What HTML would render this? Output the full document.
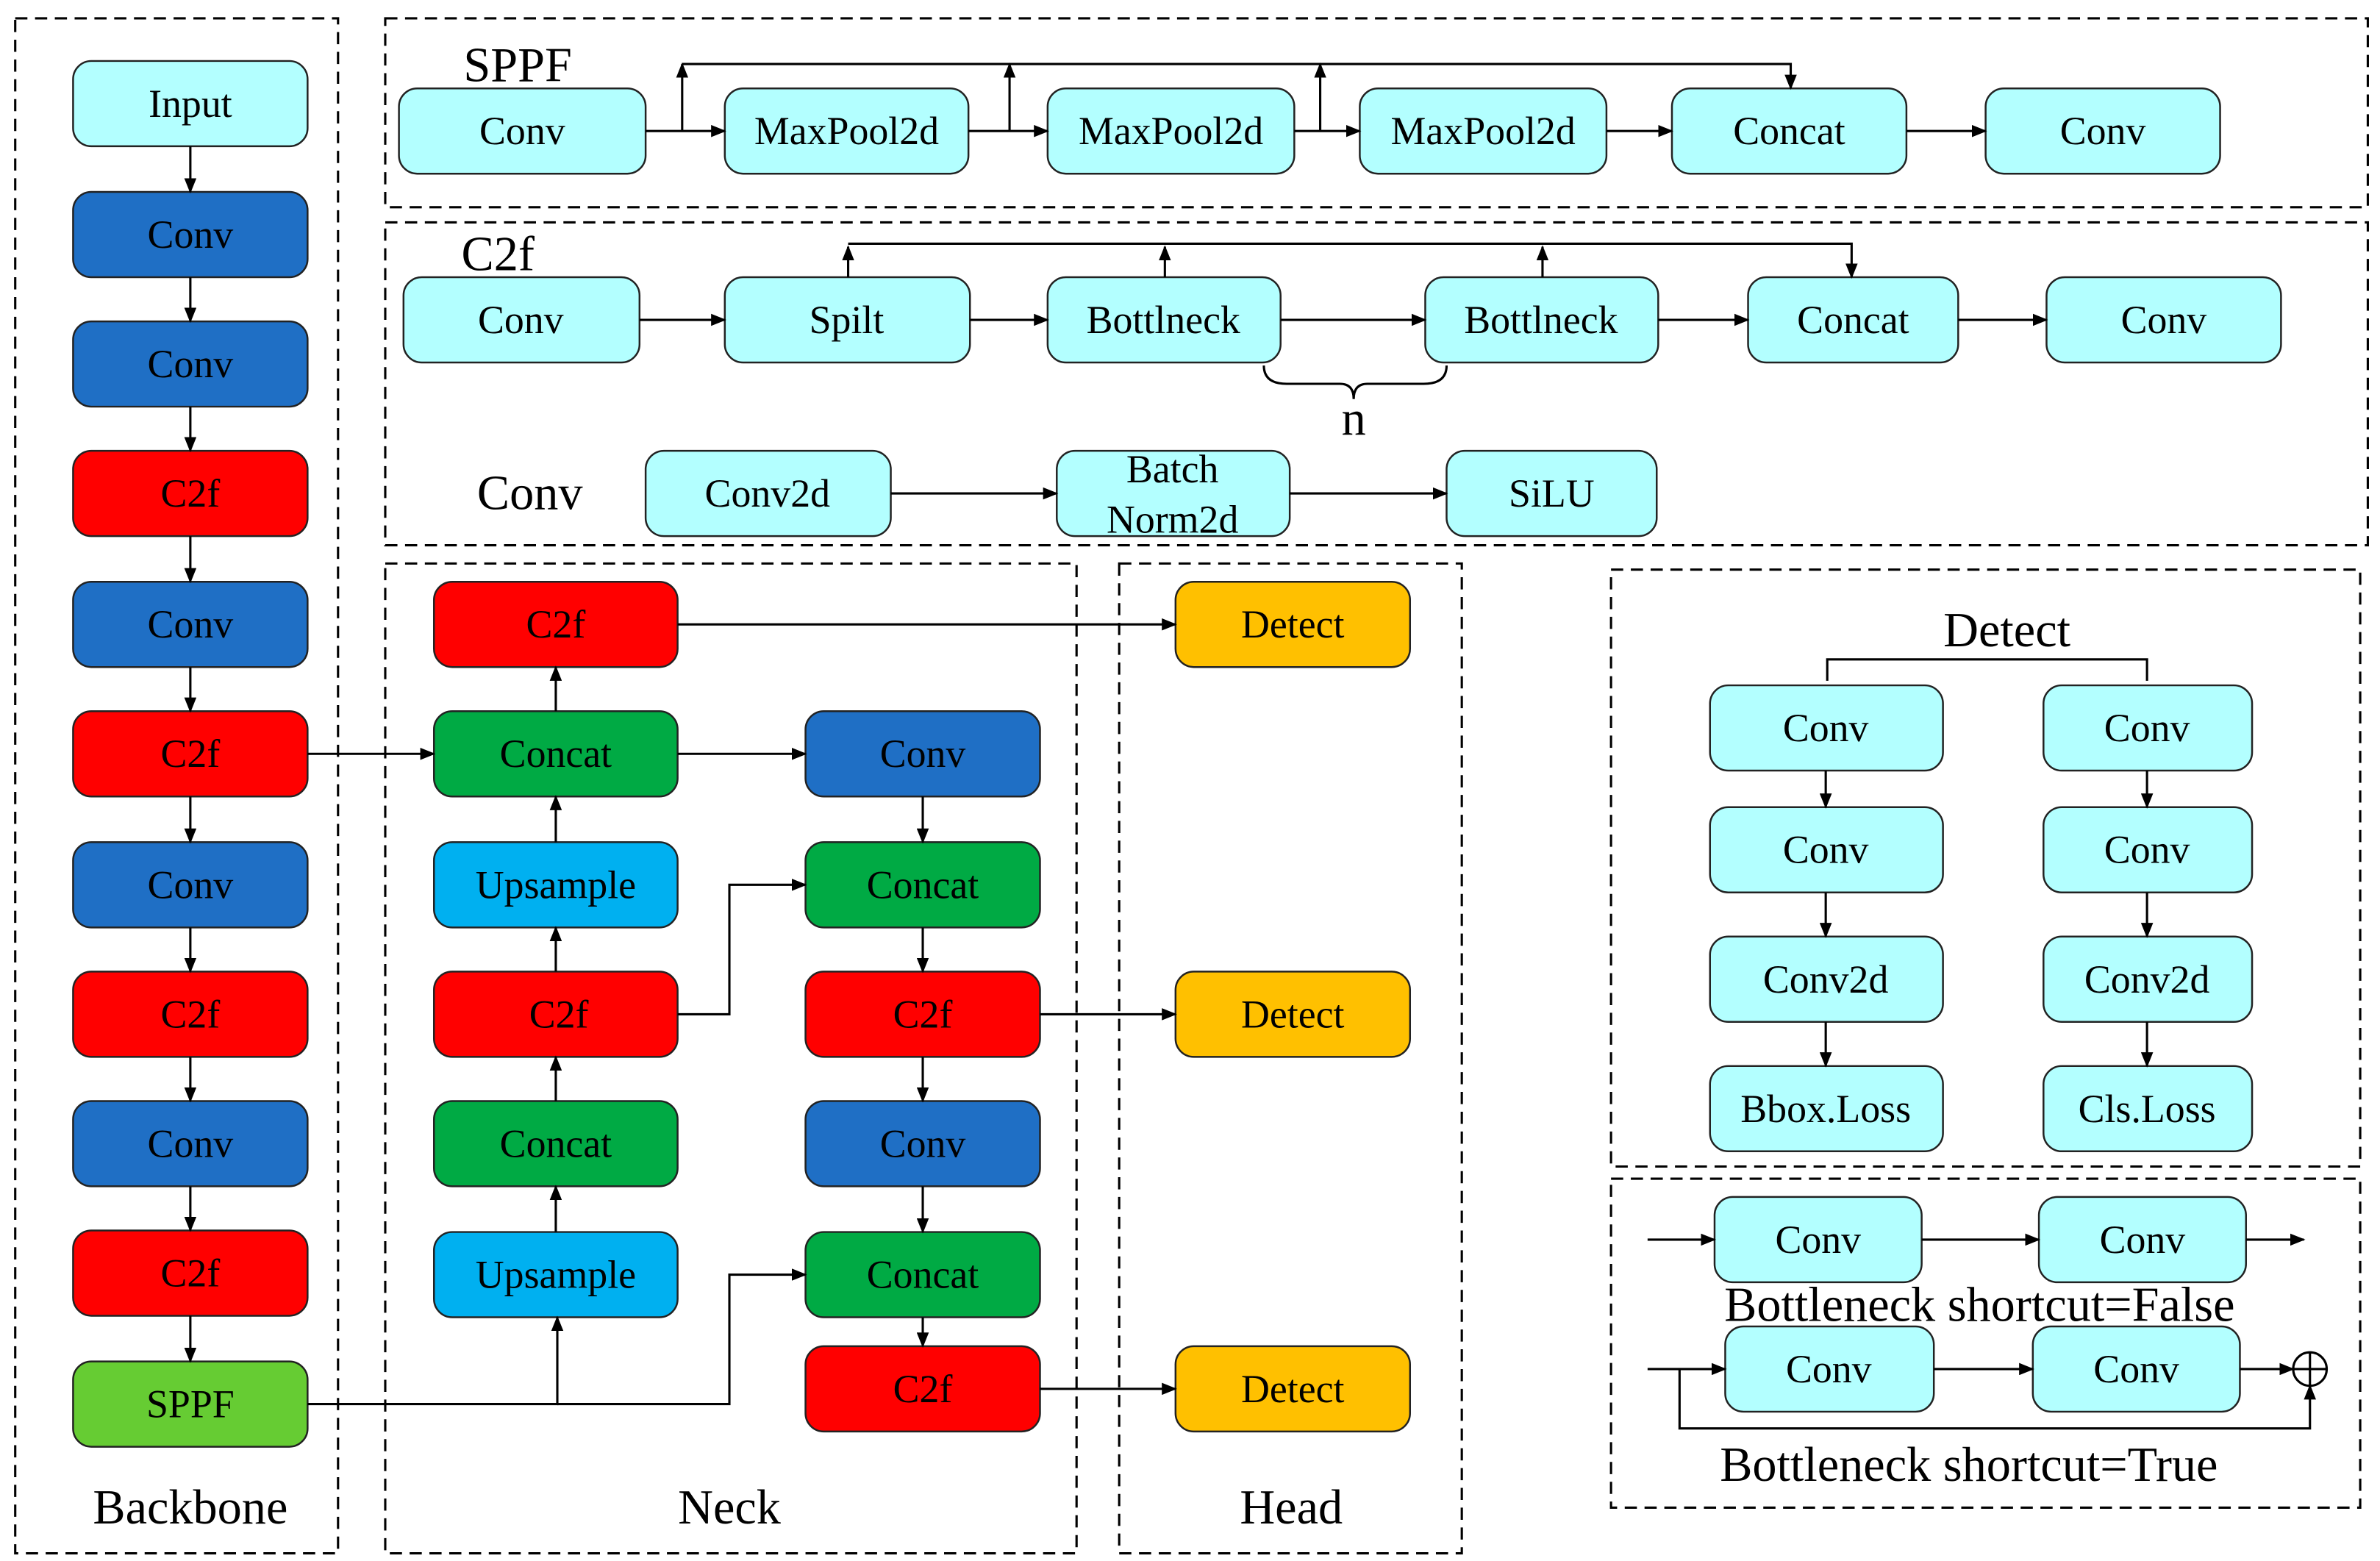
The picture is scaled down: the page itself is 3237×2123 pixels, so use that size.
<!DOCTYPE html>
<html><head><meta charset="utf-8"><style>html,body{margin:0;padding:0;background:#fff}svg{display:block}</style></head><body>
<svg xmlns="http://www.w3.org/2000/svg" width="3237" height="2123" viewBox="0 0 1563 1025">
<defs><marker id="a" markerWidth="10" markerHeight="8" refX="9" refY="4" orient="auto" markerUnits="userSpaceOnUse"><path d="M0,0 L10,4 L0,8 z" fill="#000"/></marker></defs>
<rect width="1563" height="1025" fill="#fff"/>
<g fill="none" stroke="#000" stroke-width="1.5" stroke-dasharray="8,5">
<rect x="10" y="12" width="212" height="1008"/>
<rect x="253" y="12" width="1302" height="124"/>
<rect x="253" y="146" width="1302" height="212"/>
<rect x="253" y="370" width="454" height="650"/>
<rect x="735" y="370" width="225" height="650"/>
<rect x="1058" y="374" width="492" height="392"/>
<rect x="1058" y="774" width="492" height="216"/>
</g>
<g stroke="#222" stroke-width="1.2">
<rect x="48" y="40" width="154" height="56" rx="12" fill="#b3ffff"/>
<rect x="48" y="126" width="154" height="56" rx="12" fill="#1f6fc5"/>
<rect x="48" y="211" width="154" height="56" rx="12" fill="#1f6fc5"/>
<rect x="48" y="296" width="154" height="56" rx="12" fill="#ff0000"/>
<rect x="48" y="382" width="154" height="56" rx="12" fill="#1f6fc5"/>
<rect x="48" y="467" width="154" height="56" rx="12" fill="#ff0000"/>
<rect x="48" y="553" width="154" height="56" rx="12" fill="#1f6fc5"/>
<rect x="48" y="638" width="154" height="56" rx="12" fill="#ff0000"/>
<rect x="48" y="723" width="154" height="56" rx="12" fill="#1f6fc5"/>
<rect x="48" y="808" width="154" height="56" rx="12" fill="#ff0000"/>
<rect x="48" y="894" width="154" height="56" rx="12" fill="#66cc33"/>
<rect x="262" y="58" width="162" height="56" rx="12" fill="#b3ffff"/>
<rect x="476" y="58" width="160" height="56" rx="12" fill="#b3ffff"/>
<rect x="688" y="58" width="162" height="56" rx="12" fill="#b3ffff"/>
<rect x="893" y="58" width="162" height="56" rx="12" fill="#b3ffff"/>
<rect x="1098" y="58" width="154" height="56" rx="12" fill="#b3ffff"/>
<rect x="1304" y="58" width="154" height="56" rx="12" fill="#b3ffff"/>
<rect x="265" y="182" width="155" height="56" rx="12" fill="#b3ffff"/>
<rect x="476" y="182" width="161" height="56" rx="12" fill="#b3ffff"/>
<rect x="688" y="182" width="153" height="56" rx="12" fill="#b3ffff"/>
<rect x="936" y="182" width="153" height="56" rx="12" fill="#b3ffff"/>
<rect x="1148" y="182" width="138" height="56" rx="12" fill="#b3ffff"/>
<rect x="1344" y="182" width="154" height="56" rx="12" fill="#b3ffff"/>
<rect x="424" y="296" width="161" height="56" rx="12" fill="#b3ffff"/>
<rect x="694" y="296" width="153" height="56" rx="12" fill="#b3ffff"/>
<rect x="950" y="296" width="138" height="56" rx="12" fill="#b3ffff"/>
<rect x="285" y="382" width="160" height="56" rx="12" fill="#ff0000"/>
<rect x="285" y="467" width="160" height="56" rx="12" fill="#00aa44"/>
<rect x="285" y="553" width="160" height="56" rx="12" fill="#00b0f0"/>
<rect x="285" y="638" width="160" height="56" rx="12" fill="#ff0000"/>
<rect x="285" y="723" width="160" height="56" rx="12" fill="#00aa44"/>
<rect x="285" y="809" width="160" height="56" rx="12" fill="#00b0f0"/>
<rect x="529" y="467" width="154" height="56" rx="12" fill="#1f6fc5"/>
<rect x="529" y="553" width="154" height="56" rx="12" fill="#00aa44"/>
<rect x="529" y="638" width="154" height="56" rx="12" fill="#ff0000"/>
<rect x="529" y="723" width="154" height="56" rx="12" fill="#1f6fc5"/>
<rect x="529" y="809" width="154" height="56" rx="12" fill="#00aa44"/>
<rect x="529" y="884" width="154" height="56" rx="12" fill="#ff0000"/>
<rect x="772" y="382" width="154" height="56" rx="12" fill="#ffc000"/>
<rect x="772" y="638" width="154" height="56" rx="12" fill="#ffc000"/>
<rect x="772" y="884" width="154" height="56" rx="12" fill="#ffc000"/>
<rect x="1123" y="450" width="153" height="56" rx="12" fill="#b3ffff"/>
<rect x="1123" y="530" width="153" height="56" rx="12" fill="#b3ffff"/>
<rect x="1123" y="615" width="153" height="56" rx="12" fill="#b3ffff"/>
<rect x="1123" y="700" width="153" height="56" rx="12" fill="#b3ffff"/>
<rect x="1342" y="450" width="137" height="56" rx="12" fill="#b3ffff"/>
<rect x="1342" y="530" width="137" height="56" rx="12" fill="#b3ffff"/>
<rect x="1342" y="615" width="137" height="56" rx="12" fill="#b3ffff"/>
<rect x="1342" y="700" width="137" height="56" rx="12" fill="#b3ffff"/>
<rect x="1126" y="786" width="136" height="56" rx="12" fill="#b3ffff"/>
<rect x="1339" y="786" width="136" height="56" rx="12" fill="#b3ffff"/>
<rect x="1133" y="871" width="137" height="56" rx="12" fill="#b3ffff"/>
<rect x="1335" y="871" width="136" height="56" rx="12" fill="#b3ffff"/>
</g>
<g style="font-family:'Liberation Serif',serif" font-size="26" text-anchor="middle" dominant-baseline="central" fill="#000">
<text x="125" y="68">Input</text><text x="125" y="154">Conv</text><text x="125" y="239">Conv</text><text x="125" y="324">C2f</text><text x="125" y="410">Conv</text><text x="125" y="495">C2f</text><text x="125" y="581">Conv</text><text x="125" y="666">C2f</text><text x="125" y="751">Conv</text><text x="125" y="836">C2f</text><text x="125" y="922">SPPF</text>
<text x="343" y="86">Conv</text><text x="556" y="86">MaxPool2d</text><text x="769" y="86">MaxPool2d</text><text x="974" y="86">MaxPool2d</text><text x="1175" y="86">Concat</text><text x="1381" y="86">Conv</text>
<text x="342" y="210">Conv</text><text x="556" y="210">Spilt</text><text x="764" y="210">Bottlneck</text><text x="1012" y="210">Bottlneck</text><text x="1217" y="210">Concat</text><text x="1421" y="210">Conv</text>
<text x="504" y="324">Conv2d</text><text x="770" y="308">Batch</text><text x="770" y="341">Norm2d</text><text x="1019" y="324">SiLU</text>
<text x="365" y="410">C2f</text><text x="365" y="495">Concat</text><text x="365" y="581">Upsample</text><text x="367" y="666">C2f</text><text x="365" y="751">Concat</text><text x="365" y="837">Upsample</text>
<text x="606" y="495">Conv</text><text x="606" y="581">Concat</text><text x="606" y="666">C2f</text><text x="606" y="751">Conv</text><text x="606" y="837">Concat</text><text x="606" y="912">C2f</text>
<text x="849" y="410">Detect</text><text x="849" y="666">Detect</text><text x="849" y="912">Detect</text>
<text x="1199" y="478">Conv</text><text x="1199" y="558">Conv</text><text x="1199" y="643">Conv2d</text><text x="1199" y="728">Bbox.Loss</text>
<text x="1410" y="478">Conv</text><text x="1410" y="558">Conv</text><text x="1410" y="643">Conv2d</text><text x="1410" y="728">Cls.Loss</text>
<text x="1194" y="814">Conv</text><text x="1407" y="814">Conv</text><text x="1201" y="899">Conv</text><text x="1403" y="899">Conv</text>
</g>
<g style="font-family:'Liberation Serif',serif" font-size="32" text-anchor="middle" dominant-baseline="central" fill="#000">
<text x="125" y="990">Backbone</text><text x="479" y="990">Neck</text><text x="848" y="990">Head</text>
<text x="340" y="43">SPPF</text><text x="327" y="167">C2f</text><text x="348" y="324">Conv</text><text x="889" y="275">n</text>
<text x="1318" y="414">Detect</text>
<text x="1300" y="857">Bottleneck shortcut=False</text><text x="1293" y="962">Bottleneck shortcut=True</text>
</g>
<g fill="none" stroke="#000" stroke-width="1.5" marker-end="url(#a)">
<path d="M125 96V126"/><path d="M125 182V211"/><path d="M125 267V296"/><path d="M125 352V382"/><path d="M125 438V467"/><path d="M125 523V553"/><path d="M125 609V638"/><path d="M125 694V723"/><path d="M125 779V808"/><path d="M125 864V894"/>
<path d="M424 86H476"/><path d="M636 86H688"/><path d="M850 86H893"/><path d="M1055 86H1098"/><path d="M1252 86H1304"/>
<path d="M448 86V42"/><path d="M663 86V42"/><path d="M867 86V42"/><path d="M448 42H1176V58"/>
<path d="M420 210H476"/><path d="M637 210H688"/><path d="M841 210H936"/><path d="M1089 210H1148"/><path d="M1286 210H1344"/>
<path d="M557 182V162"/><path d="M765 182V162"/><path d="M1013 182V162"/><path d="M557 160H1216V182"/>
<path d="M585 324H694"/><path d="M847 324H950"/>
<path d="M202 495H285"/><path d="M445 410H772"/><path d="M445 495H529"/>
<path d="M365 467V438"/><path d="M365 553V523"/><path d="M365 638V609"/><path d="M365 723V694"/><path d="M365 809V779"/>
<path d="M606 523V553"/><path d="M606 609V638"/><path d="M606 694V723"/><path d="M606 779V809"/><path d="M606 865V884"/>
<path d="M445 666H479V581H529"/><path d="M683 666H772"/><path d="M683 912H772"/>
<path d="M202 922H366V865"/><path d="M366 922H479V837H529"/>
<path d="M1199 506V530"/><path d="M1199 586V615"/><path d="M1199 671V700"/>
<path d="M1410 506V530"/><path d="M1410 586V615"/><path d="M1410 671V700"/>
<path d="M1082 814H1126"/><path d="M1262 814H1339"/><path d="M1475 814H1513"/>
<path d="M1082 899H1133"/><path d="M1270 899H1335"/><path d="M1471 899H1506"/>
<path d="M1103 899V938H1517V910"/>
</g>
<g fill="none" stroke="#000" stroke-width="1.5">
<path d="M1200 447V433H1410V447"/>
<path d="M830 240Q830 252 845 252H880Q889 252 889 262Q889 252 898 252H935Q950 252 950 240"/>
<circle cx="1517" cy="899" r="11"/><path d="M1506 899H1528M1517 888V910"/>
</g>
</svg>
</body></html>
